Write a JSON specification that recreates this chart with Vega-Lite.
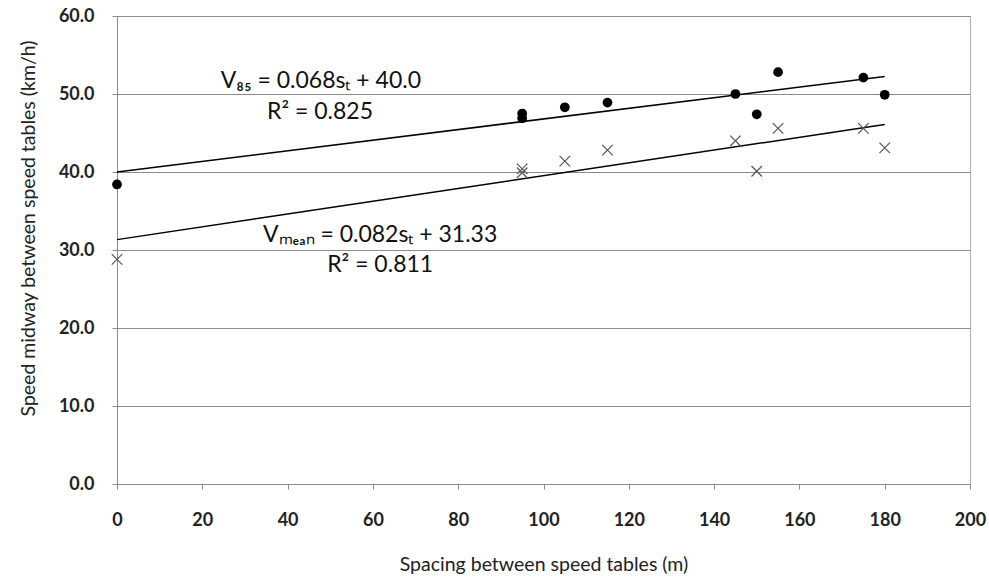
{
  "$schema": "https://vega.github.io/schema/vega-lite/v6.json",
  "width": 853,
  "height": 468,
  "autosize": "none",
  "padding": {"left": 117, "top": 16, "right": 19, "bottom": 104},
  "background": "white",
  "config": {
    "font": "Lato",
    "view": {"stroke": "#b0b0b0", "strokeWidth": 1},
    "axis": {
      "domainColor": "#8c8c8c",
      "tickColor": "#8c8c8c",
      "gridColor": "#8c8c8c",
      "labelFont": "Lato",
      "labelFontWeight": "bold",
      "labelColor": "#222",
      "labelFontSize": 18,
      "titleFont": "Lato",
      "titleFontWeight": "normal",
      "titleFontSize": 19.5,
      "titleColor": "#222",
      "tickSize": 5
    }
  },
  "datasets": {
    "points": [
      {"spacing": 0, "speed": 38.4, "measure": "V85"},
      {"spacing": 95, "speed": 47.5, "measure": "V85"},
      {"spacing": 95, "speed": 46.9, "measure": "V85"},
      {"spacing": 105, "speed": 48.3, "measure": "V85"},
      {"spacing": 115, "speed": 48.9, "measure": "V85"},
      {"spacing": 145, "speed": 50.0, "measure": "V85"},
      {"spacing": 150, "speed": 47.4, "measure": "V85"},
      {"spacing": 155, "speed": 52.8, "measure": "V85"},
      {"spacing": 175, "speed": 52.1, "measure": "V85"},
      {"spacing": 180, "speed": 49.9, "measure": "V85"},
      {"spacing": 0, "speed": 28.8, "measure": "Vmean"},
      {"spacing": 95, "speed": 40.4, "measure": "Vmean"},
      {"spacing": 95, "speed": 39.9, "measure": "Vmean"},
      {"spacing": 105, "speed": 41.4, "measure": "Vmean"},
      {"spacing": 115, "speed": 42.8, "measure": "Vmean"},
      {"spacing": 145, "speed": 44.0, "measure": "Vmean"},
      {"spacing": 150, "speed": 40.1, "measure": "Vmean"},
      {"spacing": 155, "speed": 45.6, "measure": "Vmean"},
      {"spacing": 175, "speed": 45.6, "measure": "Vmean"},
      {"spacing": 180, "speed": 43.1, "measure": "Vmean"}
    ],
    "fits": [
      {"spacing": 0, "speed": 40.0, "line": "V85"},
      {"spacing": 180, "speed": 52.24, "line": "V85"},
      {"spacing": 0, "speed": 31.33, "line": "Vmean"},
      {"spacing": 180, "speed": 46.09, "line": "Vmean"}
    ],
    "labels": [
      {"spacing": 47.8, "speed": 50.8, "text": "V₈₅ = 0.068sₜ + 40.0"},
      {"spacing": 47.6, "speed": 46.8, "text": "R² = 0.825"},
      {"spacing": 61.7, "speed": 31.06, "text": "Vₘₑₐₙ = 0.082sₜ + 31.33"},
      {"spacing": 61.7, "speed": 27.2, "text": "R² = 0.811"}
    ]
  },
  "encoding": {
    "x": {
      "field": "spacing",
      "type": "quantitative",
      "scale": {"domain": [0, 200], "nice": false},
      "axis": {
        "title": "Spacing between speed tables (m)",
        "values": [0, 20, 40, 60, 80, 100, 120, 140, 160, 180, 200],
        "grid": false,
        "labelPadding": 22,
        "titlePadding": 26,
        "labelFlush": false
      }
    },
    "y": {
      "field": "speed",
      "type": "quantitative",
      "scale": {"domain": [0, 60], "nice": false},
      "axis": {
        "title": "Speed midway between speed tables (km/h)",
        "values": [0, 10, 20, 30, 40, 50, 60],
        "format": ".1f",
        "grid": true,
        "labelPadding": 18,
        "titlePadding": 20,
        "titleY": 212,
        "labelFlush": false
      }
    }
  },
  "layer": [
    {
      "data": {"name": "fits"},
      "mark": {"type": "line", "color": "#000", "strokeWidth": 1.5},
      "encoding": {"detail": {"field": "line"}}
    },
    {
      "data": {"name": "points"},
      "transform": [{"filter": "datum.measure === 'V85'"}],
      "mark": {"type": "point", "shape": "circle", "filled": true, "color": "#000", "opacity": 1, "size": 95}
    },
    {
      "data": {"name": "points"},
      "transform": [{"filter": "datum.measure === 'Vmean'"}],
      "mark": {"type": "point", "shape": "M-1,-1L1,1M-1,1L1,-1", "filled": false, "color": "#555", "opacity": 1, "strokeWidth": 1.2, "size": 110}
    },
    {
      "data": {"name": "labels"},
      "mark": {"type": "text", "fontSize": 23, "align": "center", "baseline": "alphabetic", "color": "#111", "font": "Lato"},
      "encoding": {"text": {"field": "text"}}
    }
  ]
}
